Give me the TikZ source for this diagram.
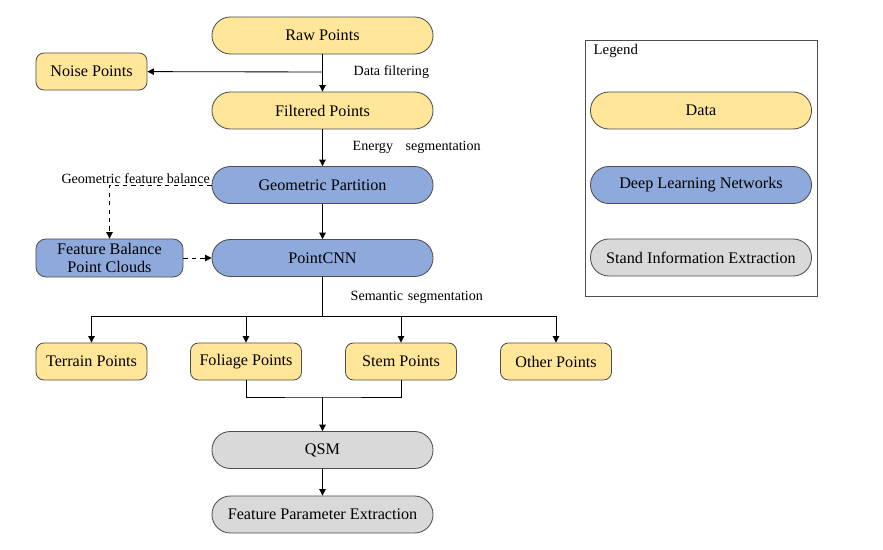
\documentclass[tikz,border=0pt]{standalone}
\usepackage{fontspec}
\setmainfont{Liberation Serif}
\usepackage{tikz}
\usetikzlibrary{arrows.meta}
\definecolor{datafill}{HTML}{FFE699}
\definecolor{netfill}{HTML}{8EA9DB}
\definecolor{standfill}{HTML}{D9D9D9}
\definecolor{edgegray}{HTML}{4D4D4D}
\tikzset{
	box/.style={draw=edgegray, line width=0.6pt, minimum height=0.925cm, inner sep=1pt, align=center, font=\fontsize{11.5}{12.5}\selectfont},
	pill/.style={box, minimum width=5.525cm, rounded corners=0.46cm},
	small/.style={box, minimum width=2.775cm, rounded corners=0.2cm},
	data/.style={fill=datafill},
	net/.style={fill=netfill},
	stand/.style={fill=standfill},
	lbl/.style={font=\fontsize{10}{11}\selectfont, inner sep=1pt},
	arr/.style={line width=0.6pt, -{Triangle[length=1.6mm,width=1.6mm]}},
	dasharr/.style={arr, dashed},
}

\begin{document}
\begin{tikzpicture}[x=0.025cm, y=-0.025cm]
		%%%%% START %%%%%
		\useasboundingbox (0, 0) rectangle (883, 550);
		
		\node[pill, data] (raw) at (322.5, 35.5) {Raw Points};
		\node[small, data] (noise) at (91.5, 71.5) {Noise Points};
		\node[pill, data] (filtered) at (322.5, 110.5) {Filtered Points};
		\node[pill, net] (geo) at (322.5, 185) {Geometric Partition};
		\node[box, net, minimum width=3.675cm, minimum height=0.95cm, rounded corners=0.25cm] (fbpc) at (109.5, 258) {Feature Balance\\Point Clouds};
		\node[pill, net] (pcnn) at (322.5, 258) {PointCNN};
		
		\node[small, data] (terrain) at (91.5, 361.5) {Terrain Points};
		\node[small, data] (foliage) at (246, 361.5) {Foliage Points};
		\node[small, data] (stem) at (401, 361.5) {Stem Points};
		\node[small, data] (other) at (556, 361.5) {Other Points};
		
		\node[pill, stand] (qsm) at (322.5, 450) {QSM};
		\node[pill, stand] (fpe) at (322.5, 514.5) {Feature Parameter Extraction};
		
		% connectors
		\coordinate (noisebr) at (322.5, 72);
		\coordinate (split) at (322.5, 316);
		\coordinate (merge) at (322.5, 397);
		
		\draw[arr] (raw) -- (filtered);
		\draw[arr] (noisebr) -- (noise);
		\node[lbl, anchor=west] (filtlbl) at (352, 72) {Data filtering};
		
		\draw[arr] (filtered) -- (geo);
		\node[lbl, anchor=west] (energylbl) at (351, 147) {Energy\hspace{0.9em}segmentation};
		
		\draw[arr] (geo) -- (pcnn);
		\draw[dasharr] (geo.west) -| (fbpc.north);
		\node[lbl, anchor=south east] (geolbl) at (geo.west) {Geometric feature balance};
		\draw[dasharr] (fbpc) -- (pcnn);
		
		\draw[line width=0.6pt] (pcnn) -- (split);
		\node[lbl, anchor=west] (semlbl) at (349, 297) {Semantic\hspace{0.35em}segmentation};
		\foreach \n in {terrain, foliage, stem, other}
			\draw[arr] (split) -| (\n);
		
		\draw[line width=0.6pt] (foliage) |- (merge) -| (stem);
		\draw[arr] (merge) -- (qsm);
		\draw[arr] (qsm) -- (fpe);
		
		% legend
		\draw[edgegray, line width=0.6pt] (585, 40) rectangle (817, 296);
		\node[lbl, anchor=west, font=\fontsize{10.5}{12}\selectfont] (legtitle) at (592, 51) {Legend};
		\node[pill, data] (legdata) at (701, 110.5) {Data};
		\node[pill, net] (legnet) at (701, 185) {Deep Learning Networks};
		\node[pill, stand] (legstand) at (701, 257.5) {Stand Information Extraction};
		
		%%%%% END %%%%%
	\end{tikzpicture}
\end{document}
